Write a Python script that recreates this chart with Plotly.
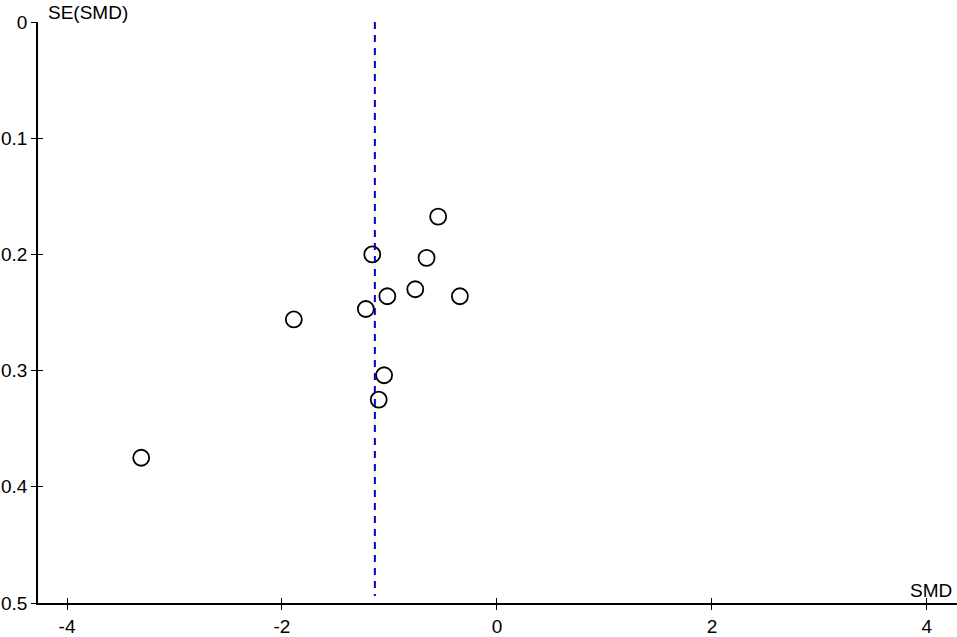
import plotly.graph_objects as go

smd = [-3.31, -1.89, -1.22, -1.16, -1.02, -1.05, -1.10, -0.76, -0.655, -0.547, -0.345]
se = [0.375, 0.256, 0.247, 0.200, 0.236, 0.304, 0.325, 0.230, 0.203, 0.1675, 0.236]
pooled_smd = -1.136

x_ticks = [-4, -2, 0, 2, 4]
y_ticks = [0, 0.1, 0.2, 0.3, 0.4, 0.5]
y_ticklabels = ["0", "0.1", "0.2", "0.3", "0.4", "0.5"]

xr = [-4.27, 4.28]
yr = [0.5, 0.0]

font = dict(family="Liberation Sans, Arial, sans-serif", size=19, color="black")

fig = go.Figure()
fig.add_trace(go.Scatter(
    x=smd, y=se, mode="markers",
    marker=dict(symbol="circle-open", size=16, color="black", line=dict(width=1.8)),
    showlegend=False, hoverinfo="x+y"))
fig.add_trace(go.Scatter(
    x=[pooled_smd, pooled_smd], y=[0.0, 0.494], mode="lines",
    line=dict(color="#0000d0", width=2, dash="7px,6px"),
    showlegend=False, hoverinfo="skip", cliponaxis=False))

axis_common = dict(showgrid=False, zeroline=False, showline=True, linecolor="black",
                   linewidth=1.5, ticklen=5, tickwidth=1.3, tickcolor="black", tickfont=font)

fig.update_layout(
    width=957, height=637,
    margin=dict(l=38, r=0, t=22, b=30),
    plot_bgcolor="white", paper_bgcolor="white",
    font=font,
    xaxis=dict(range=xr, tickvals=x_ticks, ticktext=[str(v) for v in x_ticks],
               ticks="outside", anchor="y", **axis_common),
    yaxis=dict(range=yr, tickvals=y_ticks, ticktext=y_ticklabels,
               ticks="outside", anchor="x", **axis_common),
    xaxis2=dict(range=xr, tickvals=x_ticks, ticks="inside", showticklabels=False,
                overlaying="x", anchor="y2", side="bottom", **axis_common),
    yaxis2=dict(range=yr, tickvals=y_ticks, ticks="inside", showticklabels=False,
                overlaying="y", anchor="x2", side="left", **axis_common),
    annotations=[
        dict(text="SE(SMD)", xref="paper", yref="paper", x=0.0, y=1.0,
             xanchor="left", yanchor="bottom", xshift=8, yshift=-3, showarrow=False, font=font),
        dict(text="SMD", xref="paper", yref="paper", x=1.0, y=0.0,
             xanchor="right", yanchor="bottom", xshift=-3, yshift=0, showarrow=False, font=font),
    ],
)
fig.add_trace(go.Scatter(x=[None], y=[None], xaxis="x2", yaxis="y2", showlegend=False))

fig.write_html("out.html", config={"displayModeBar": False},
               post_script="document.body.style.margin='0';document.body.style.overflow='hidden';")
